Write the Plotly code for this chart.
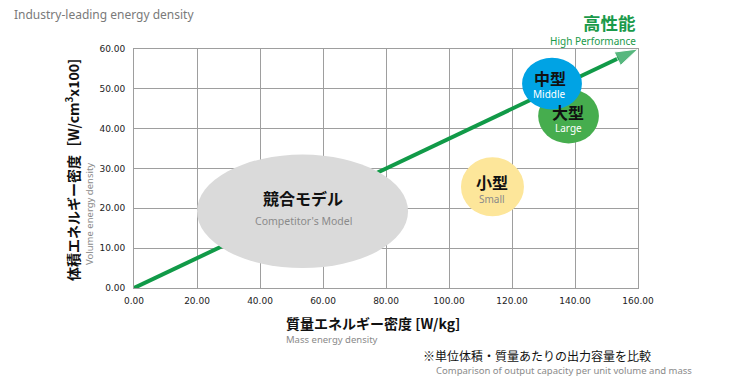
import plotly.graph_objects as go

# ---- data ----
x_ticks = [0, 20, 40, 60, 80, 100, 120, 140, 160]
y_ticks = [0, 10, 20, 30, 40, 50, 60]
arrow_x = [0, 160]
arrow_y = [0, 60]

bubble_names_jp = ["競合モデル", "小型", "大型", "中型"]
bubble_names_en = ["Competitor's Model", "Small", "Large", "Middle"]
bubble_x0 = [20.0, 103.8, 128.3, 123.2]
bubble_x1 = [87.0, 123.8, 147.6, 142.2]
bubble_y0 = [5.0, 18.0, 36.3, 44.8]
bubble_y1 = [33.5, 32.8, 50.0, 57.8]
bubble_colors = ["#dadada", "#fde69a", "#46ad4e", "#00a3e4"]
en_colors = ["#8a8a8a", "#8a8a8a", "#ffffff", "#ffffff"]

# ---- layout geometry (screen pixels; page body adds an 8px offset) ----
OFF = 8
W, H = 746 - OFF, 389 - OFF
L, R, T, B = 134, 638, 49, 288


def px(xp):
    return (xp - L) / (R - L)


def py(yp):
    return (B - yp) / (B - T)


fig = go.Figure()

fig.add_trace(go.Scatter(
    x=arrow_x, y=arrow_y, mode="lines+markers",
    line=dict(color="#119a48", width=4),
    marker=dict(symbol=["circle", "arrow"], size=[1, 24], color="#119a48",
                angleref="previous"),
    cliponaxis=False, hoverinfo="skip", showlegend=False,
))

shapes = []
annotations = []
for i in range(len(bubble_names_jp)):
    shapes.append(dict(type="circle", xref="x", yref="y",
                       x0=bubble_x0[i], x1=bubble_x1[i],
                       y0=bubble_y0[i], y1=bubble_y1[i],
                       fillcolor=bubble_colors[i], line=dict(width=0),
                       layer="above"))

label_pos = [
    (53.7, 22.6, 16.8),
    (113.7, 26.5, 22.4),
    (137.8, 44.2, 40.2),
    (132.0, 52.8, 48.7),
]
for i, (lx, ly_jp, ly_en) in enumerate(label_pos):
    annotations.append(dict(x=lx, y=ly_jp, xref="x", yref="y", showarrow=False,
                            text=bubble_names_jp[i],
                            font=dict(family="Noto Sans CJK JP", size=16,
                                      color="#111111", weight="bold")))
    annotations.append(dict(x=lx, y=ly_en, xref="x", yref="y", showarrow=False,
                            text=bubble_names_en[i],
                            font=dict(family="Noto Sans", size=10 if i else 10.5,
                                      color=en_colors[i])))


def add_text(xp, yp, text, size, color, family="Noto Sans", weight="normal",
             xanchor="left", angle=0):
    annotations.append(dict(x=px(xp), y=py(yp), xref="paper", yref="paper",
                            showarrow=False, text=text, xanchor=xanchor,
                            yanchor="middle", textangle=angle,
                            font=dict(family=family, size=size, color=color,
                                      weight=weight)))


add_text(12, 15, "Industry-leading energy density", 12, "#7a7a7a")
add_text(638, 22, "高性能", 17.5, "#1a9a4a", family="Noto Sans CJK JP",
         weight="bold", xanchor="right")
add_text(638, 41, "High Performance", 10, "#1a9a4a", xanchor="right")
add_text(284, 323, "質量エネルギー密度 [W/kg]", 14, "#111111",
         family="Noto Sans CJK JP", weight="bold")
add_text(284, 339, "Mass energy density", 9.5, "#8a8a8a")
add_text(421, 355, "※単位体積・質量あたりの出力容量を比較", 12, "#111111",
         family="Noto Sans CJK JP")
add_text(434, 370, "Comparison of output capacity per unit volume and mass", 9.5,
         "#8a8a8a")
add_text(72, 170, "体積エネルギー密度［W/cm<sup>3</sup>x100]", 14, "#111111",
         family="Noto Sans CJK JP", weight="bold", xanchor="center", angle=-90)
add_text(89, 214, "Volume energy density", 9.5, "#8a8a8a", xanchor="center",
         angle=-90)

axis_common = dict(showgrid=True, gridcolor="#9e9e9e", gridwidth=1,
                   showline=True, linecolor="#9e9e9e", linewidth=1, mirror=True,
                   zeroline=False, ticks="",
                   tickfont=dict(family="DejaVu Sans", size=9, color="#222222"))

fig.update_layout(
    width=W, height=H,
    margin=dict(l=L - OFF, r=746 - R, t=T - OFF, b=389 - B),
    paper_bgcolor="white", plot_bgcolor="white",
    showlegend=False,
    shapes=shapes, annotations=annotations,
    xaxis=dict(range=[0, 160], tickvals=x_ticks,
               ticktext=[f"{v:.2f}" for v in x_ticks], ticklabelstandoff=4,
               **axis_common),
    yaxis=dict(range=[0, 60], tickvals=y_ticks,
               ticktext=[f"{v:.2f}" for v in y_ticks], ticklabelstandoff=6,
               **axis_common),
)

fig.write_html("out.html")
